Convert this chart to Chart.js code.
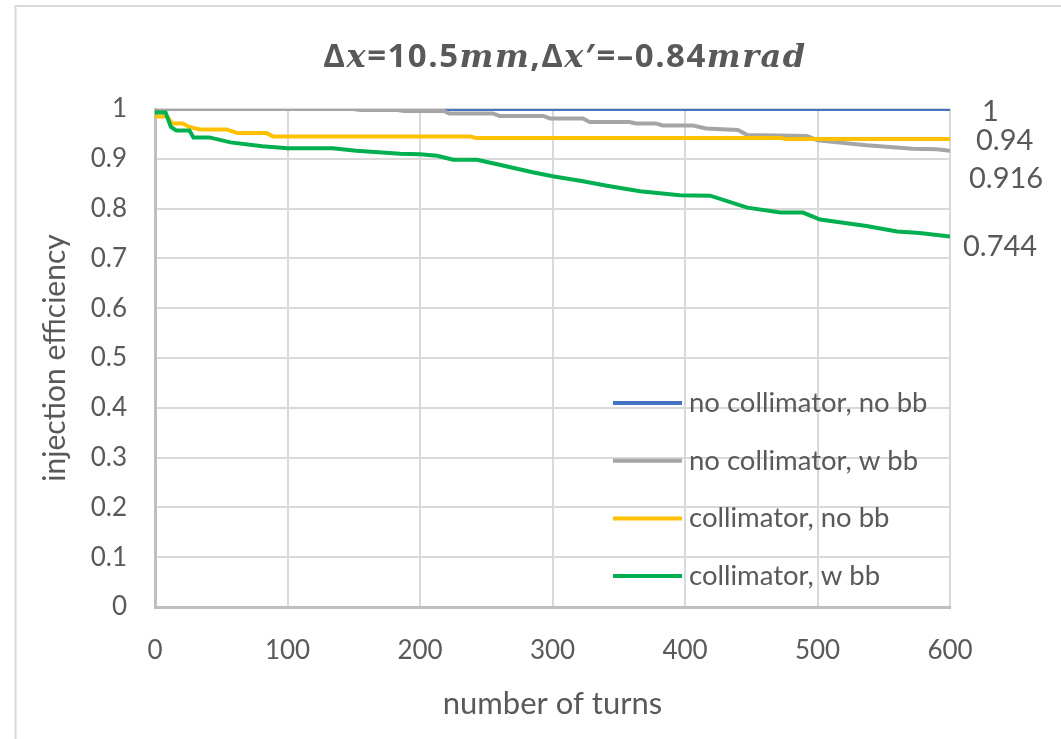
<!DOCTYPE html>
<html>
<head>
<meta charset="utf-8">
<script src="https://cdn.jsdelivr.net/npm/chart.js@4.4.1/dist/chart.umd.min.js"></script>
<style>
  html, body { margin: 0; padding: 0; background: #fff; }
  #wrap { position: relative; width: 1061px; height: 739px; }
</style>
</head>
<body>
<div id="wrap"><canvas id="effChart"></canvas></div>
<script>
// injection efficiency vs number of turns, one pair of arrays per case
var turnsNoCollNoBB = [0, 600];
var effNoCollNoBB   = [1, 1];

var turnsNoCollBB = [0, 150, 155, 183, 188, 218, 222, 255, 260, 293, 298, 323, 328, 358, 363, 378, 383, 406, 416, 440, 447, 492, 500, 537, 572, 590, 600];
var effNoCollBB   = [1, 1, 0.998, 0.998, 0.996, 0.996, 0.991, 0.991, 0.986, 0.986, 0.981, 0.981, 0.974, 0.974, 0.971, 0.971, 0.967, 0.967, 0.961, 0.958, 0.948, 0.946, 0.937, 0.927, 0.92, 0.919, 0.916];

var turnsCollNoBB = [0, 9, 13, 21, 26, 34, 54, 62, 84, 89, 238, 242, 472, 476, 600];
var effCollNoBB   = [0.985, 0.985, 0.971, 0.971, 0.964, 0.959, 0.959, 0.952, 0.952, 0.945, 0.945, 0.942, 0.942, 0.94, 0.94];

var turnsCollBB = [0, 8, 12, 16, 26, 29, 41, 57, 81, 100, 134, 152, 185, 200, 213, 225, 243, 260, 285, 300, 323, 341, 366, 396, 419, 447, 472, 489, 502, 537, 560, 577, 600];
var effCollBB   = [0.993, 0.993, 0.964, 0.957, 0.957, 0.943, 0.943, 0.933, 0.925, 0.921, 0.921, 0.916, 0.91, 0.909, 0.906, 0.898, 0.898, 0.888, 0.873, 0.865, 0.855, 0.846, 0.835, 0.827, 0.826, 0.802, 0.792, 0.792, 0.778, 0.765, 0.754, 0.751, 0.744];

var seriesNames  = ['no collimator, no bb', 'no collimator, w bb', 'collimator, no bb', 'collimator, w bb'];
var seriesColors = ['#4472C4', '#A5A5A5', '#FFC000', '#00B050'];

// title pieces: [text, italic]
var titleParts = [['Δ', false], ['x', true], ['=10.5', false], ['mm', true], [',Δ', false], ['x', true], ['′=–0.84', false], ['mrad', true]];

var TEXT = '#595959';
Chart.defaults.font.family = 'Lato';
Chart.defaults.color = TEXT;

function pts(xs, ys) {
  return xs.map(function (x, i) { return { x: x, y: ys[i] }; });
}

var allTurns = [turnsNoCollNoBB, turnsNoCollBB, turnsCollNoBB, turnsCollBB];
var allEff = [effNoCollNoBB, effNoCollBB, effCollNoBB, effCollBB];

var datasets = seriesNames.map(function (name, i) {
  return {
    label: name,
    data: pts(allTurns[i], allEff[i]),
    borderColor: seriesColors[i],
    backgroundColor: seriesColors[i],
    borderWidth: 4,
    pointRadius: 0,
    tension: 0,
    clip: 0,
    order: 4 - i
  };
});

// end-of-line value labels, offsets from the last point
var endLabelOffsets = [[32, 3], [19, 28], [26, 2], [13, 10]];

var framePlugin = {
  id: 'frame',
  beforeDraw: function (chart) {
    var c = chart.ctx;
    c.save();
    c.strokeStyle = '#D9D9D9';
    c.lineWidth = 2;
    c.beginPath();
    c.moveTo(15.5, 739);
    c.lineTo(15.5, 6);
    c.lineTo(1061, 6);
    c.stroke();
    c.restore();
  }
};

var titlePlugin = {
  id: 'mathTitle',
  afterDraw: function (chart) {
    var c = chart.ctx;
    var upright = 'bold 33px "Open Sans"';
    var italic = 'italic bold 32px "DejaVu Serif"';
    c.save();
    c.fillStyle = TEXT;
    c.textBaseline = 'alphabetic';
    c.letterSpacing = '1.5px';
    var total = 0;
    titleParts.forEach(function (p) {
      c.font = p[1] ? italic : upright;
      total += c.measureText(p[0]).width;
    });
    var x = 565 - total / 2;
    titleParts.forEach(function (p) {
      c.font = p[1] ? italic : upright;
      c.fillText(p[0], x, 67);
      x += c.measureText(p[0]).width;
    });
    c.restore();
  }
};

var endLabelPlugin = {
  id: 'endLabels',
  afterDatasetsDraw: function (chart) {
    var c = chart.ctx;
    c.save();
    c.font = '29px Lato';
    c.fillStyle = TEXT;
    c.textAlign = 'left';
    c.textBaseline = 'middle';
    chart.data.datasets.forEach(function (ds, i) {
      var last = ds.data[ds.data.length - 1];
      var px = chart.scales.x.getPixelForValue(last.x);
      var py = chart.scales.y.getPixelForValue(last.y);
      c.fillText(String(last.y), px + endLabelOffsets[i][0], py + endLabelOffsets[i][1]);
    });
    c.restore();
  }
};

var legendPlugin = {
  id: 'insideLegend',
  afterDatasetsDraw: function (chart) {
    var c = chart.ctx;
    c.save();
    c.font = '27.5px Lato';
    c.textBaseline = 'middle';
    c.textAlign = 'left';
    chart.data.datasets.forEach(function (ds, i) {
      var y = 403 + i * 57.7;
      c.strokeStyle = ds.borderColor;
      c.lineWidth = 4;
      c.beginPath();
      c.moveTo(613, y);
      c.lineTo(682, y);
      c.stroke();
      c.fillStyle = TEXT;
      c.fillText(ds.label, 689, y);
    });
    c.restore();
  }
};

var ctx = document.getElementById('effChart').getContext('2d');
var chart = new Chart(ctx, {
  type: 'line',
  data: { datasets: datasets },
  options: {
    responsive: true,
    maintainAspectRatio: false,
    animation: false,
    layout: { padding: { left: 0, top: 109, right: 111, bottom: 0 } },
    plugins: {
      legend: { display: false },
      title: { display: false },
      tooltip: { enabled: false }
    },
    scales: {
      x: {
        type: 'linear',
        min: 0,
        max: 600,
        ticks: { stepSize: 100, padding: 28, maxRotation: 0, font: { size: 26 }, color: TEXT },
        grid: { color: '#D9D9D9', lineWidth: 2, drawTicks: false },
        border: { color: '#BFBFBF', width: 3 },
        title: { display: true, text: 'number of turns', font: { size: 31 }, color: TEXT, padding: { top: 0, bottom: 16 } },
        afterFit: function (s) { s.height = 132; }
      },
      y: {
        min: 0,
        max: 1,
        ticks: {
          stepSize: 0.1, padding: 28, font: { size: 26 }, color: TEXT,
          callback: function (v) { return String(Math.round(v * 10) / 10); }
        },
        grid: { color: '#D9D9D9', lineWidth: 2, drawTicks: false },
        border: { color: '#BFBFBF', width: 3 },
        title: { display: true, text: 'injection efficiency', font: { size: 30 }, color: TEXT, padding: { top: 37, bottom: 0 } },
        afterFit: function (s) { s.width = 155; }
      }
    }
  },
  plugins: [framePlugin, titlePlugin, endLabelPlugin, legendPlugin]
});
</script>
</body>
</html>
